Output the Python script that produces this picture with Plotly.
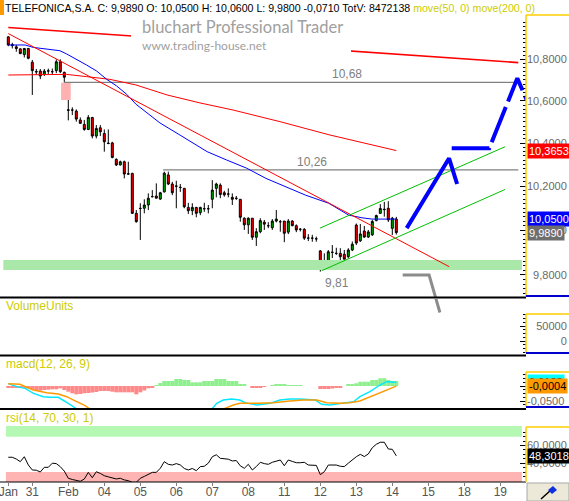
import numpy as np
import plotly.graph_objects as go

# hourly bars, Telefonica, 30 Jan - 14 Feb (index 0 = first bar on screen)
opens = [10.910, 10.872, 10.861, 10.851, 10.823, 10.853, 10.786, 10.741, 10.743, 10.727,
         10.743, 10.740, 10.745, 10.788, 10.737, 10.557, 10.556, 10.551, 10.509, 10.488,
         10.464, 10.521, 10.433, 10.472, 10.445, 10.400, 10.401, 10.324, 10.298, 10.313,
         10.257, 10.259, 10.076, 10.099, 10.099, 10.114, 10.152, 10.155, 10.141, 10.174,
         10.252, 10.210, 10.201, 10.195, 10.190, 10.103, 10.088, 10.103, 10.079, 10.097,
         10.097, 10.140, 10.190, 10.205, 10.170, 10.164, 10.149, 10.145, 10.140, 10.054,
         10.024, 10.054, 9.968, 9.993, 10.036, 10.020, 10.011, 10.041, 10.038, 10.041,
         9.991, 10.041, 10.020, 10.004, 10.004, 9.964, 9.964, 9.961, 9.907, 9.858,
         9.858, 9.900, 9.896, 9.896, 9.892, 9.881, 9.911, 10.023, 9.952, 9.996,
         9.969, 9.979, 10.043, 10.076, 10.095, 10.099, 10.008, 10.050]
highs = [10.913, 10.881, 10.870, 10.853, 10.855, 10.855, 10.797, 10.753, 10.753, 10.753,
         10.755, 10.755, 10.800, 10.800, 10.740, 10.604, 10.569, 10.559, 10.521, 10.509,
         10.532, 10.523, 10.485, 10.485, 10.464, 10.464, 10.406, 10.329, 10.318, 10.318,
         10.313, 10.262, 10.091, 10.122, 10.140, 10.167, 10.182, 10.213, 10.174, 10.267,
         10.267, 10.220, 10.225, 10.210, 10.192, 10.124, 10.122, 10.105, 10.106, 10.124,
         10.114, 10.228, 10.216, 10.213, 10.179, 10.190, 10.167, 10.155, 10.140, 10.058,
         10.058, 10.054, 10.009, 10.054, 10.046, 10.036, 10.050, 10.091, 10.046, 10.041,
         10.050, 10.045, 10.026, 10.009, 10.009, 9.982, 9.979, 9.971, 9.911, 9.896,
         9.911, 9.933, 9.921, 9.919, 9.911, 9.919, 9.949, 10.030, 10.028, 10.019,
         10.001, 10.046, 10.070, 10.118, 10.128, 10.131, 10.060, 10.060]
lows = [10.864, 10.853, 10.837, 10.825, 10.809, 10.800, 10.628, 10.725, 10.704, 10.719,
        10.729, 10.725, 10.733, 10.733, 10.687, 10.507, 10.532, 10.501, 10.490, 10.458,
        10.461, 10.422, 10.422, 10.433, 10.360, 10.395, 10.329, 10.293, 10.296, 10.236,
        10.252, 10.073, 10.034, 9.956, 10.076, 10.091, 10.149, 10.145, 10.137, 10.171,
        10.205, 10.159, 10.099, 10.174, 10.099, 10.073, 10.068, 10.058, 10.068, 10.083,
        10.076, 10.099, 10.149, 10.145, 10.152, 10.149, 10.114, 10.137, 10.038, 10.001,
        9.983, 9.956, 9.929, 9.986, 10.001, 10.009, 10.001, 10.035, 9.993, 9.946,
        9.982, 10.018, 9.991, 9.994, 9.956, 9.951, 9.948, 9.948, 9.815, 9.826,
        9.852, 9.875, 9.889, 9.866, 9.870, 9.874, 9.906, 9.933, 9.947, 9.965,
        9.965, 9.974, 10.040, 10.073, 10.061, 10.037, 9.978, 9.980]
closes = [10.870, 10.867, 10.853, 10.828, 10.853, 10.805, 10.745, 10.739, 10.719, 10.743,
          10.744, 10.740, 10.788, 10.740, 10.713, 10.555, 10.556, 10.513, 10.493, 10.464,
          10.521, 10.433, 10.469, 10.453, 10.406, 10.398, 10.333, 10.298, 10.313, 10.256,
          10.256, 10.076, 10.038, 10.098, 10.114, 10.145, 10.152, 10.145, 10.170, 10.260,
          10.210, 10.170, 10.200, 10.194, 10.106, 10.088, 10.103, 10.076, 10.103, 10.097,
          10.097, 10.182, 10.210, 10.162, 10.160, 10.164, 10.140, 10.144, 10.058, 10.024,
          10.054, 9.968, 9.993, 10.043, 10.027, 10.020, 10.041, 10.050, 10.038, 9.986,
          10.041, 10.020, 10.001, 10.004, 9.964, 9.964, 9.964, 9.961, 9.830, 9.832,
          9.903, 9.901, 9.896, 9.881, 9.870, 9.911, 9.937, 9.942, 9.983, 9.969,
          9.992, 10.039, 10.066, 10.098, 10.093, 10.046, 10.054, 9.989]
bar_idx = list(range(len(closes)))

day_ticks = [0, 6, 15, 24, 33, 42, 51, 60, 69, 78, 87, 96, 105, 114, 123]
day_labels = ["Jan", "31", "Feb", "04", "05", "06", "07", "08", "11", "12", "13", "14", "15", "18", "19"]

# moving averages
ma50_x = [0, 4.2, 6.25, 10.4, 12.9, 14.6, 17.1, 19.6, 22.1, 24.6, 27.1, 29.6, 31.9, 33.7,
          37.9, 42.9, 49.7, 54.6, 59.6, 64.4, 74.3, 80.1, 85.1, 88.4, 90.9, 95.1, 97]
ma50 = [10.870, 10.870, 10.858, 10.849, 10.842, 10.826, 10.800, 10.772, 10.743, 10.703,
        10.671, 10.631, 10.584, 10.556, 10.495, 10.438, 10.360, 10.321, 10.283, 10.236,
        10.159, 10.122, 10.068, 10.056, 10.050, 10.050, 10.050]
ma200_x = [0, 14.6, 19.6, 25.4, 31.9, 39.7, 47.9, 56.2, 67.9, 80.4, 97]
ma200 = [10.724, 10.727, 10.716, 10.703, 10.676, 10.628, 10.590, 10.556, 10.501, 10.438, 10.365]

# hand drawn studies
trend_top_x = [0, 127.5]
trend_top = [10.956, 10.784]
trend_down_x = [0, 110.2]
trend_down = [10.926, 9.837]
chan_low_x = [78.35, 124.2]
chan_low = [9.819, 10.185]
chan_up_x = [77.9, 124.2]
chan_up = [10.009, 10.383]
levels = [10.688, 10.275]
level_from = [14, 38.7]
level_text = ["10,68", "10,26"]
support_band = [9.822, 9.866]
low_value = 9.815
low_text = "9,81"

proj1_x = [99.6, 110.2, 112.2]
proj1 = [10.009, 10.329, 10.210]
proj2_x = [110.85, 120.25, 127.25, 129.6]
proj2 = [10.376, 10.376, 10.708, 10.604]
down_x = [98.6, 105.2, 107.9]
down = [9.80, 9.80, 9.636]
down_vol = [220000, 95000]

last_ma200, last_open, last_close = 10.3653, 10.05, 9.989

macd_hist = [-0.0043, -0.0043, -0.0043, -0.0043, -0.005, -0.0083, -0.0117, -0.0157, -0.0157, -0.0133,
             -0.0123, -0.011, -0.011, -0.0077, -0.0133, -0.019, -0.0243, -0.0277, -0.0267, -0.0243,
             -0.0233, -0.0217, -0.02, -0.0167, -0.0167, -0.0167, -0.019, -0.021, -0.021, -0.021,
             -0.021, -0.021, -0.0277, -0.021, -0.015, -0.0077, -0.0043, 0.001, 0.01, 0.0167,
             0.0167, 0.0167, 0.0233, 0.0233, 0.02, 0.02, 0.0123, 0.0123, 0.0123, 0.0167,
             0.0167, 0.0167, 0.0233, 0.0233, 0.0233, 0.0167, 0.0167, 0.0167, 0.0057, 0.0057,
             0, -0.0057, -0.0057, -0.0057, -0.0033, 0, 0.0033, 0.0043, 0.0043, 0.0043,
             0.0033, 0.0033, 0.0033, 0.0023, 0, 0, 0, 0, -0.01, -0.01,
             -0.01, -0.0083, -0.0067, -0.005, 0, 0.0057, 0.0067, 0.009, 0.0143, 0.0143,
             0.0143, 0.02, 0.02, 0.0257, 0.0257, 0.02, 0.0167, 0.0167]
macd_x = [0, 2.1, 4.2, 6.3, 8.75, 10.4, 12.5, 13.75, 15.4, 17.1, 22, 30, 38, 44, 50.9, 52.1,
          53.75, 55.85, 57.9, 59.2, 62.1, 65.4, 67.9, 70.4, 72.9, 76.7, 78.35, 80.4, 83.75,
          86.3, 87.9, 90.4, 92.9, 94.6, 97]
macd_line = [0.0077, -0.0023, -0.0077, -0.0243, -0.0357, -0.0377, -0.0377, -0.0467, -0.061,
             -0.0767, -0.1, -0.12, -0.115, -0.095, -0.0767, -0.0577, -0.0467, -0.0433, -0.0467,
             -0.0557, -0.0633, -0.0577, -0.0467, -0.0433, -0.0433, -0.0467, -0.061, -0.0633,
             -0.0577, -0.0523, -0.0357, -0.019, 0.0033, 0.0143, 0.0123]
signal_x = [0, 2.9, 6.25, 9.6, 12.5, 14.6, 17.1, 19.2, 20.4, 28, 36, 44, 53.75, 56.25, 57.9,
            62.1, 66.25, 70.4, 73.75, 77.1, 79.6, 82.9, 85.4, 87.9, 90.4, 93.75, 97]
signal_line = [0.0077, 0.0057, -0.0133, -0.0223, -0.0267, -0.0357, -0.0523, -0.0657, -0.0767,
               -0.095, -0.108, -0.105, -0.0767, -0.0633, -0.0577, -0.0577, -0.0557, -0.05,
               -0.0467, -0.0467, -0.0557, -0.0577, -0.0557, -0.05, -0.0357, -0.0167, -0.0004]

rsi = [46.7, 46.7, 44.7, 41.7, 47.3, 38, 32.3, 32, 30, 35.3,
       35.3, 40, 39.5, 36, 31, 22.9, 21.5, 20.9, 19.5, 22,
       29.6, 23.5, 30.3, 28.4, 25.8, 24.5, 23, 22.1, 22.9, 21,
       20.2, 18.3, 18.3, 22.9, 25, 27.5, 29.6, 29.6, 34.2, 41.7,
       38.7, 37.9, 39.5, 38, 34, 32.3, 34, 31.5, 36.1, 36.5,
       40, 47.3, 49.5, 45.5, 45, 44.5, 42.5, 43, 37, 34.2,
       38.7, 32.3, 36.1, 41, 39.5, 38.7, 41, 42.5, 43.6, 37.1,
       43.6, 42, 40.5, 40.5, 41, 37.9, 37.9, 37.5, 27, 30.3,
       37.9, 37.9, 37.9, 36.5, 36.1, 40, 44, 47.3, 50, 47.5,
       50.4, 57.5, 61.4, 63.7, 63.7, 56.1, 55.7, 48.3]
rsi_high_band = [70, 82]
rsi_low_band = [18, 30]

# ---- page geometry (pixels) ----
W, H = 569, 501
ML, MR, MT, MB = 3, 43, 16, 19
FONT = "Liberation Sans"
YEL = "#cccc00"
FS = "\u2007"   # figure space, one digit wide
PS = "\u2008"   # punctuation space, one comma wide


def px(x):
    return (x - ML) / (W - ML - MR)


def py(y):
    return (H - MB - y) / (H - MT - MB)


def rect(xs, lo, hi):
    return [xs[0], xs[1], xs[1], xs[0], xs[0]], [lo, lo, hi, hi, lo]


fig = go.Figure()
band_x = [-1.25, 128.4]

bx, by = rect(band_x, support_band[0], support_band[1])
fig.add_trace(go.Scatter(x=bx, y=by, fill="toself", fillcolor="#aae8aa", line=dict(width=0),
                         mode="lines", hoverinfo="skip"))
gx, gy = rect([13.2, 15.6], highs[15], lows[14])
fig.add_trace(go.Scatter(x=gx, y=gy, fill="toself", fillcolor="#ffb0b0", line=dict(width=0),
                         mode="lines", hoverinfo="skip"))
for lv, start in zip(levels, level_from):
    fig.add_trace(go.Scatter(x=[start, 127.5], y=[lv, lv], mode="lines",
                             line=dict(color="#808080", width=1.3), hoverinfo="skip"))

fig.add_trace(go.Candlestick(
    x=bar_idx, open=opens, high=highs, low=lows, close=closes,
    increasing=dict(fillcolor="#00b000", line=dict(color="black", width=1)),
    decreasing=dict(fillcolor="#ff0000", line=dict(color="black", width=1)),
    whiskerwidth=0, hoverinfo="skip"))

for xs, ys, col, w in [(ma200_x, ma200, "#ff0000", 1), (ma50_x, ma50, "#0000ff", 1),
                       (trend_down_x, trend_down, "#ff0000", 1),
                       (trend_top_x, trend_top, "#ff0000", 1.6),
                       (chan_low_x, chan_low, "#00c000", 1), (chan_up_x, chan_up, "#00c000", 1)]:
    fig.add_trace(go.Scatter(x=xs, y=ys, mode="lines", line=dict(color=col, width=w),
                             hoverinfo="skip"))

fig.add_trace(go.Scatter(x=proj1_x, y=proj1, mode="lines", line=dict(color="#0000ff", width=4),
                         hoverinfo="skip"))
fig.add_trace(go.Scatter(x=proj2_x, y=proj2, mode="lines",
                         line=dict(color="#0000ff", width=4, dash="38px,6px"), hoverinfo="skip"))
fig.add_trace(go.Scatter(x=down_x, y=down, mode="lines", line=dict(color="#8c8c8c", width=3),
                         hoverinfo="skip"))
fig.add_trace(go.Scatter(x=down_x[1:], y=down_vol, mode="lines", yaxis="y2",
                         line=dict(color="#8c8c8c", width=3), hoverinfo="skip"))

# macd pane
fig.add_trace(go.Bar(x=bar_idx, y=macd_hist, width=1, yaxis="y3",
                     marker=dict(color=["#8cf08c" if v >= 0 else "#ff8888" for v in macd_hist],
                                 line=dict(width=0)), hoverinfo="skip"))
fig.add_trace(go.Scatter(x=macd_x, y=macd_line, yaxis="y3", mode="lines",
                         line=dict(color="#00e8ff", width=1.4), hoverinfo="skip"))
fig.add_trace(go.Scatter(x=signal_x, y=signal_line, yaxis="y3", mode="lines",
                         line=dict(color="#ff9900", width=1.4), hoverinfo="skip"))

# rsi pane
rx, ry = rect([-0.6, 128.4], rsi_high_band[0], rsi_high_band[1])
fig.add_trace(go.Scatter(x=rx, y=ry, yaxis="y4", fill="toself", fillcolor="#b4f8b4",
                         line=dict(width=0), mode="lines", hoverinfo="skip"))
rx, ry = rect([-0.6, 128.4], rsi_low_band[0], rsi_low_band[1])
fig.add_trace(go.Scatter(x=rx, y=ry, yaxis="y4", fill="toself", fillcolor="#ffb4b4",
                         line=dict(width=0), mode="lines", hoverinfo="skip"))
fig.add_trace(go.Scatter(x=bar_idx, y=rsi, yaxis="y4", mode="lines",
                         line=dict(color="black", width=1), hoverinfo="skip"))

tick_common = dict(ticks="inside", ticklen=6, tickcolor="black", side="right", anchor="x",
                   showgrid=False, zeroline=False, showline=False, tickmode="array",
                   automargin=False,
                   tickfont=dict(family=FONT, size=11, color="#6a6a6a"))
minor_common = dict(ticks="inside", ticklen=3, tickcolor="black", showgrid=False)

fig.update_layout(
    width=W, height=H, margin=dict(l=ML, r=MR, t=MT, b=MB, autoexpand=False),
    paper_bgcolor="white", plot_bgcolor="white", showlegend=False,
    separators=",.", boxgap=0.3, barmode="overlay",
    xaxis=dict(range=[-1.325, 129.425], anchor="y4", rangeslider=dict(visible=False),
               tickmode="array", tickvals=day_ticks, ticktext=day_labels, automargin=False,
               ticks="outside", ticklen=3, tickcolor="#808080", showgrid=False, zeroline=False,
               ticklabeloverflow="allow", ticklabelstandoff=-4,
               tickfont=dict(family=FONT, size=12, color="#555555")),
    yaxis=dict(domain=[py(297), 1], type="log", range=[0.98692, 1.04190],
               tickvals=[9.8, 10.0, 10.2, 10.4, 10.6, 10.8],
               ticktext=[FS + "9,8000", "10,0000", "10,2000", "10,4000", "10,6000", "10,8000"],
               minor=dict(tickvals=list(np.round(np.arange(9.72, 10.99, 0.02), 2)), **minor_common),
               **tick_common),
    yaxis2=dict(domain=[py(354), py(299)], range=[-43333, 140000],
                tickvals=[0, 50000], ticktext=[FS * 5 + PS + "0", FS + PS + "50000"],
                minor=dict(tickvals=list(np.arange(-37500, 90000, 12500)), **minor_common),
                **tick_common),
    yaxis3=dict(domain=[py(408), py(357)], range=[-0.073333, 0.096667],
                tickvals=[-0.05, 0], ticktext=["-0,0500", FS + "0,0000"],
                minor=dict(tickvals=list(np.arange(-0.0625, 0.038, 0.0125)), **minor_common),
                **tick_common),
    yaxis4=dict(domain=[0, py(411)], range=[18.67, 99.12],
                tickvals=[40, 60], ticktext=["40,0000", "60,0000"],
                minor=dict(tickvals=list(range(25, 80, 5)), **minor_common),
                **tick_common),
)

# left side tick columns
left_axes = [("y", 297 - 16, 7.0), ("y2", 354 - 299, 4.5), ("y3", 408 - 357, 6.7), ("y4", 482 - 411, 8.7)]
for k, (ov, hpx, step) in enumerate(left_axes):
    fig.update_layout(**{f"yaxis{5 + k}": dict(
        overlaying=ov, anchor="x", side="left", range=[0, hpx], showgrid=False, zeroline=False,
        tickmode="array", tickvals=list(np.arange(2, hpx, step)), showticklabels=False,
        automargin=False, ticks="outside", ticklen=3, tickcolor="black")})

shapes = []


def line(x0, y0, x1, y1, color, width):
    shapes.append(dict(type="line", xref="paper", yref="paper", x0=px(x0), y0=py(y0),
                       x1=px(x1), y1=py(y1), line=dict(color=color, width=width), layer="above"))


def box(x0, y0, x1, y1, fill, lc=None):
    shapes.append(dict(type="rect", xref="paper", yref="paper", x0=px(x0), y0=py(y0),
                       x1=px(x1), y1=py(y1), fillcolor=fill,
                       line=dict(width=1 if lc else 0, color=lc or fill), layer="above"))


box(0, 0, 4, 15, "#ff9900")
box(131, 17, 351, 56, "white")
for yy in (297.5, 355.5, 409):
    line(0, yy, 526, yy, "black", 2)
line(0, 482, 526, 482, "black", 1)
for top, bot, blue in [(15, 296, True), (314, 353, True), (372, 407, True), (427, 482, False)]:
    line(526, top, 569, top, "#ffcc00", 1.5)
    line(526, top, 526, bot, "#ffcc00", 1.5)
    if blue:
        line(526, bot, 569, bot, "#0000cc", 2)
box(527, 483, 569, 501, "#ece9d8", "#a8a8a8")
line(541, 499, 551, 490, "black", 1.5)
shapes.append(dict(type="path", xref="paper", yref="paper", layer="above",
                   path=f"M {px(548)},{py(490)} L {px(553)},{py(486)} L {px(557)},{py(490)} "
                        f"L {px(552)},{py(494)} Z", fillcolor="#1030e0", line=dict(width=0)))
fig.update_layout(shapes=shapes)

ann = []


def text(x, y, s, size=12, color="black", xanchor="left", family=FONT, **kw):
    ann.append(dict(x=x, y=y, text=s, showarrow=False, xanchor=xanchor, yanchor="middle",
                    font=dict(family=family, size=size, color=color), **kw))


text(px(3), py(8), "TELEFONICA,S.A. C: 9,9890 O: 10,0500 H: 10,0600 L: 9,9800 -0,0710 "
     f"TotV: 8472138 <span style=\"color:{YEL}\">move(50, 0) move(200, 0)</span>",
     size=10.6, xref="paper", yref="paper")
text(px(140), py(27), "bluchart Professional Trader", size=16.5, color="#a0a0a0",
     family="Lato", xref="paper", yref="paper")
text(px(140), py(45), "www.trading-house.net", size=12, color="#a0a0a0",
     family="Lato", xref="paper", yref="paper")
text(px(4), py(306), "VolumeUnits", color=YEL, xref="paper", yref="paper")
text(px(4), py(364), "macd(12, 26, 9)", color=YEL, xref="paper", yref="paper")
text(px(4), py(418), "rsi(14, 70, 30, 1)", color=YEL, xref="paper", yref="paper")

for lv, s, xc in zip(levels, level_text, [84.7, 75.9]):
    text(xc, np.log10(lv), s, color="#808080", xanchor="center", xref="x", yref="y", yshift=8)
text(82.1, np.log10(low_value), low_text, color="#808080", xanchor="center", xref="x", yref="y",
     yshift=-11)

for v, s, bg, fg in [(last_ma200, "10,3653", "#ff0000", "white"),
                     (last_open, "10,0500", "#0000ff", "white"),
                     (last_close, "9,9890", "#6e6e6e", "white")]:
    text(px(527), np.log10(v), s, size=11, color=fg, xref="paper", yref="y",
         bgcolor=bg, borderpad=1)
text(px(527), macd_line[-1], "0,0123", size=11, color="black", xref="paper", yref="y3",
     bgcolor="#00ffff", borderpad=1)
text(px(527), signal_line[-1], "-0,0004", size=11, color="black", xref="paper", yref="y3",
     bgcolor="#ff9900", borderpad=1)
text(px(527), rsi[-1], "48,3018", size=11, color="white", xref="paper", yref="y4",
     bgcolor="black", borderpad=1)
fig.update_layout(annotations=ann)

# the page is photographed at its top-left corner: no body margin, no modebar
fig.write_html("out.html", config={"displayModeBar": False},
               post_script="document.body.style.margin='0';")
